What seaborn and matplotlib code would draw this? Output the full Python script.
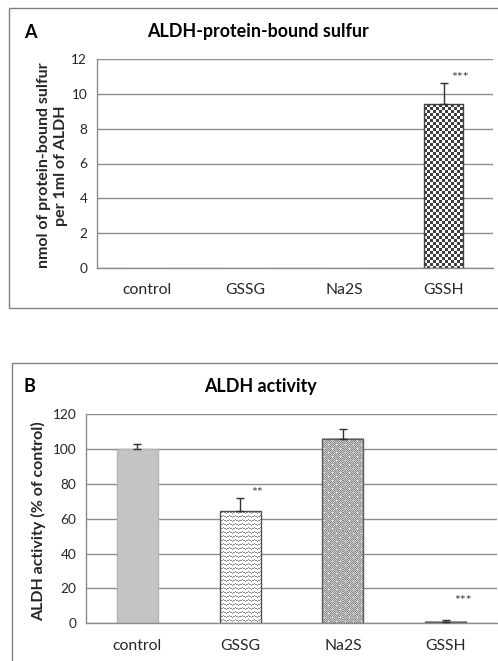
import numpy as np
import pandas as pd
from matplotlib import pyplot as plt
from matplotlib.patches import Rectangle
import seaborn as sns

'''
    Two stacked bar panels: ALDH-protein-bound sulfur and ALDH activity.
'''

categories = ['control', 'GSSG', 'Na2S', 'GSSH']

sulfur_mean = [0.0, 0.0, 0.0, 9.4]
sulfur_err = [0.0, 0.0, 0.0, 1.2]
sulfur_sig = ['', '', '', '***']

activity_mean = [100.0, 64.3, 105.8, 0.9]
activity_err = [2.7, 7.8, 6.0, 1.2]
activity_sig = ['', '**', '', '***']

GRID = '#8c8c8c'
TEXT = '#262626'


def checker(h, w):
    yy, xx = np.mgrid[0:h, 0:w]
    c = ((yy // 3 + xx // 3) % 2).astype(float)
    v = np.where(c > 0, 0.25, 1.0)
    return np.dstack([v, v, v])


def zigzag(h, w):
    yy, xx = np.mgrid[0:h, 0:w]
    tri = np.abs((xx % 6) - 3) * 2 / 3
    line = (np.round(yy - tri).astype(int) % 4) == 0
    v = np.where(line, 0.55, 1.0)
    return np.dstack([v, v, v])


def dotted(h, w):
    yy, xx = np.mgrid[0:h, 0:w]
    v = np.where((xx + yy) % 2 == 0, 0.55, 0.80)
    dots = ((xx % 8 == 2) & (yy % 8 == 2)) | ((xx % 8 == 6) & (yy % 8 == 6))
    v = np.where(dots, 1.0, v)
    return np.dstack([v, v, v])


def fill_pattern(ax, patch, maker, edge):
    bb = patch.get_window_extent()
    w, h = max(int(round(bb.width)), 1), max(int(round(bb.height)), 1)
    x0, y0 = patch.get_x(), patch.get_y()
    x1, y1 = x0 + patch.get_width(), y0 + patch.get_height()
    ax.imshow(maker(h, w), extent=[x0, x1, y0, y1], aspect='auto', origin='upper',
              interpolation='nearest', clip_path=patch, zorder=patch.get_zorder() - 0.1)
    patch.set_facecolor('none')
    patch.set_edgecolor(edge)
    patch.set_linewidth(1.0)


def draw_panel(ax, means, errs, sigs, ymax, step, ylabel, star_dy):
    frame = pd.DataFrame({'group': categories, 'value': means})
    sns.barplot(ax=ax, data=frame, x='group', y='value', order=categories,
                width=0.4, color='#c4c4c4', saturation=1, errorbar=None)
    ax.set_axisbelow(True)
    ax.set_xlim(-0.5, len(categories) - 0.5)
    ax.set_ylim(0, ymax)
    ax.set_yticks(np.arange(0, ymax + step / 2, step))
    ax.yaxis.grid(True, color=GRID, lw=1)
    ax.xaxis.grid(False)
    ax.set_xticks(np.arange(-0.5, len(categories), 1.0), minor=True)
    ax.tick_params(axis='x', which='major', length=0, pad=11, labelsize=11.3, labelcolor=TEXT)
    ax.tick_params(axis='x', which='minor', length=4, color=GRID, width=1)
    ax.tick_params(axis='y', length=4, color=GRID, width=1, labelsize=9.8, labelcolor=TEXT, pad=3)
    for side in ['top', 'right']:
        ax.spines[side].set_visible(False)
    for side in ['left', 'bottom']:
        ax.spines[side].set_color(GRID)
        ax.spines[side].set_linewidth(1)
    ax.set_xlabel('')
    ax.set_ylabel(ylabel, fontsize=11.5, fontweight='bold', color=TEXT, linespacing=1.3)
    ax.set_facecolor('white')

    for p, m, e, s in zip(ax.patches, means, errs, sigs):
        cx = p.get_x() + p.get_width() / 2
        if e > 0:
            ax.errorbar(cx, m, yerr=[[0], [e]], fmt='none', ecolor='#303030',
                        elinewidth=1, capsize=2.6, capthick=1, zorder=4)
        if s:
            ax.text(cx + 0.165, m + e + star_dy.get(s + str(round(m)), -ymax * 0.005), s,
                    ha='center', va='bottom', fontsize=10, color='#404040')


sns.set_theme(style='white')
plt.rcParams['font.family'] = ['Lato', 'DejaVu Sans']

fig = plt.figure(figsize=(4.98, 6.61), dpi=100)
fig.patch.set_facecolor('white')

axA = fig.add_axes([97 / 498, 1 - 268 / 661, 396 / 498, 209 / 661])
axB = fig.add_axes([86 / 498, 1 - 623.3 / 661, 411 / 498, 209 / 661])

draw_panel(axA, sulfur_mean, sulfur_err, sulfur_sig, 12, 2,
           'nmol of protein-bound sulfur\nper 1ml of ALDH', {})
draw_panel(axB, activity_mean, activity_err, activity_sig, 120, 20,
           'ALDH activity (% of control)', {'***1': 7.0})

# patterned fills
fill_pattern(axA, axA.patches[3], checker, '#404040')
axB.patches[0].set_edgecolor('#b4b4b4')
fill_pattern(axB, axB.patches[1], zigzag, '#505050')
fill_pattern(axB, axB.patches[2], dotted, '#5a5a5a')
fill_pattern(axB, axB.patches[3], dotted, '#5a5a5a')

axA.yaxis.set_label_coords(-0.072, 0.49)
axB.yaxis.set_label_coords(-0.097, 0.49)

# panel frames
fig.add_artist(Rectangle((9 / 498, 1 - 308 / 661), 1.0, 300 / 661, transform=fig.transFigure,
                         fill=False, edgecolor='#808080', lw=1))
fig.add_artist(Rectangle((12 / 498, -0.1), 1.0, 1 - 363 / 661 + 0.1, transform=fig.transFigure,
                         fill=False, edgecolor='#808080', lw=1))

fig.text(30 / 498, 1 - 32 / 661, 'A', fontsize=13, fontweight='bold', color='black',
         ha='center', va='center')
fig.text(258 / 498, 1 - 32 / 661, 'ALDH-protein-bound sulfur', fontsize=12.9,
         fontweight='bold', color='black', ha='center', va='center')
fig.text(29 / 498, 1 - 387 / 661, 'B', fontsize=13, fontweight='bold', color='black',
         ha='center', va='center')
fig.text(260 / 498, 1 - 386 / 661, 'ALDH activity', fontsize=12.9,
         fontweight='bold', color='black', ha='center', va='center')

fig.savefig('out.png', dpi=100, facecolor='white')
